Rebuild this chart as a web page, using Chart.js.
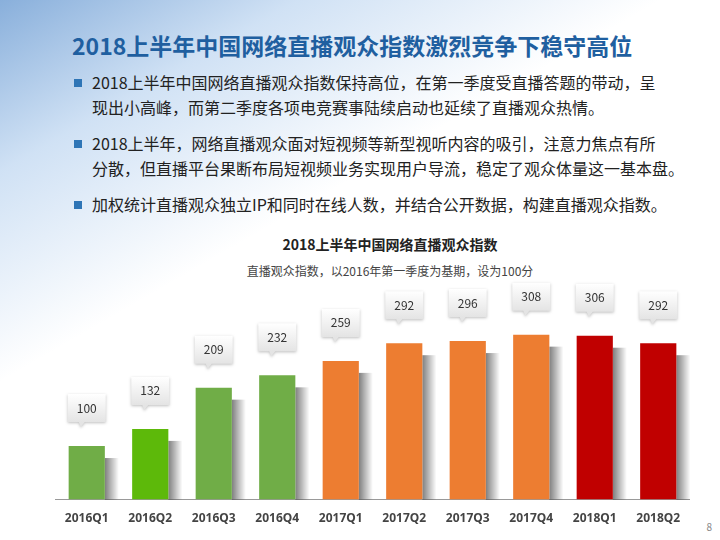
<!DOCTYPE html>
<html>
<head>
<meta charset="utf-8">
<script src="https://cdn.jsdelivr.net/npm/chart.js@4/dist/chart.umd.min.js"></script>
<style>
  body { margin:0; width:720px; height:540px; overflow:hidden; position:relative;
    font-family:"Noto Sans CJK SC","Noto Sans",sans-serif;
    background:
      linear-gradient(150deg, rgba(40,110,190,0.55) 0%, rgba(120,170,225,0.35) 18%, rgba(255,255,255,0) 40%),
      #fff; }
  .title { position:absolute; left:72px; top:28px; font-size:23px; font-weight:bold; color:#1F5FA0; white-space:nowrap; }
  .bul { position:absolute; left:72px; font-size:16px; color:#222; line-height:25px; }
  .bul li { list-style:none; position:relative; padding-left:20px; margin-bottom:11px; white-space:nowrap; }
  .bul li::before { content:""; position:absolute; left:2px; top:9px; width:8px; height:8px; background:#2E75B6; }
  .ctitle { position:absolute; top:234px; left:0; width:780px; text-align:center; font-size:14px; font-weight:bold; color:#222; }
  .csub { position:absolute; top:262px; left:0; width:780px; text-align:center; font-size:12px; color:#444; }
  .pg { position:absolute; right:8px; bottom:6px; font-size:10px; color:#888; }
  #wrap { position:absolute; left:40px; top:280px; width:650px; height:250px; }
</style>
</head>
<body>
<div class="title">2018上半年中国网络直播观众指数激烈竞争下稳守高位</div>
<ul class="bul" style="top:70px;margin:0;padding:0">
  <li>2018上半年中国网络直播观众指数保持高位，在第一季度受直播答题的带动，呈<br>现出小高峰，而第二季度各项电竞赛事陆续启动也延续了直播观众热情。</li>
  <li>2018上半年，网络直播观众面对短视频等新型视听内容的吸引，注意力焦点有所<br>分散，但直播平台果断布局短视频业务实现用户导流，稳定了观众体量这一基本盘。</li>
  <li>加权统计直播观众独立IP和同时在线人数，并结合公开数据，构建直播观众指数。</li>
</ul>
<div class="ctitle">2018上半年中国网络直播观众指数</div>
<div class="csub">直播观众指数，以2016年第一季度为基期，设为100分</div>
<div id="wrap"><canvas id="c"></canvas></div>
<div class="pg">8</div>
<script>
const quarters = ['2016Q1','2016Q2','2016Q3','2016Q4','2017Q1','2017Q2','2017Q3','2017Q4','2018Q1','2018Q2'];
const indexValues = [100, 132, 209, 232, 259, 292, 296, 308, 306, 292];
const barColors = ['#70AD47','#5DB90A','#70AD47','#70AD47','#ED7D31','#ED7D31','#ED7D31','#ED7D31','#C00000','#C00000'];

const calloutPlugin = {
  id: 'callouts',
  afterDatasetsDraw(chart) {
    const { ctx } = chart;
    const meta = chart.getDatasetMeta(0);
    meta.data.forEach((bar, i) => {
      const w = 38, h = 28;
      const x = bar.x - w / 2, y = bar.y - 24 - h;
      ctx.save();
      ctx.shadowColor = 'rgba(0,0,0,0.25)';
      ctx.shadowBlur = 3; ctx.shadowOffsetY = 1;
      const g = ctx.createLinearGradient(0, y, 0, y + h);
      g.addColorStop(0, '#ffffff'); g.addColorStop(1, '#e4e4e4');
      ctx.fillStyle = g;
      ctx.beginPath();
      ctx.moveTo(x, y); ctx.lineTo(x + w, y); ctx.lineTo(x + w, y + h);
      ctx.lineTo(bar.x - 2, y + h); ctx.lineTo(bar.x - 6, y + h + 5); ctx.lineTo(bar.x - 8, y + h);
      ctx.lineTo(x, y + h); ctx.closePath(); ctx.fill();
      ctx.restore();
      ctx.fillStyle = '#333';
      ctx.font = '12px "Noto Sans CJK SC", sans-serif';
      ctx.textAlign = 'center'; ctx.textBaseline = 'middle';
      ctx.fillText(indexValues[i], bar.x, y + h / 2);
    });
  }
};

const shadowPlugin = {
  id: 'barShadow',
  beforeDatasetsDraw(chart) {
    const { ctx } = chart;
    chart.getDatasetMeta(0).data.forEach(bar => {
      const g = ctx.createLinearGradient(bar.x + bar.width / 2, 0, bar.x + bar.width / 2 + 14, 0);
      g.addColorStop(0, 'rgba(0,0,0,0.5)'); g.addColorStop(1, 'rgba(0,0,0,0)');
      ctx.fillStyle = g;
      ctx.fillRect(bar.x + bar.width / 2, bar.y + 12, 14, bar.base - bar.y - 12);
    });
  }
};

new Chart(document.getElementById('c'), {
  type: 'bar',
  plugins: [shadowPlugin, calloutPlugin],
  data: {
    labels: quarters,
    datasets: [{ data: indexValues, backgroundColor: barColors, barPercentage: 0.57, categoryPercentage: 1 }]
  },
  options: {
    responsive: true, maintainAspectRatio: false, animation: false,
    layout: { padding: { left: 15, right: 0, top: 0, bottom: 0 } },
    plugins: { legend: { display: false }, tooltip: { enabled: false } },
    scales: {
      x: {
        grid: { display: false },
        border: { color: '#999', dash: [2, 2] },
        ticks: { color: '#444', font: { size: 12, weight: 'bold', family: 'Noto Sans' }, padding: 4 }
      },
      y: { display: false, min: 0, max: 410 }
    }
  }
});
</script>
</body>
</html>
